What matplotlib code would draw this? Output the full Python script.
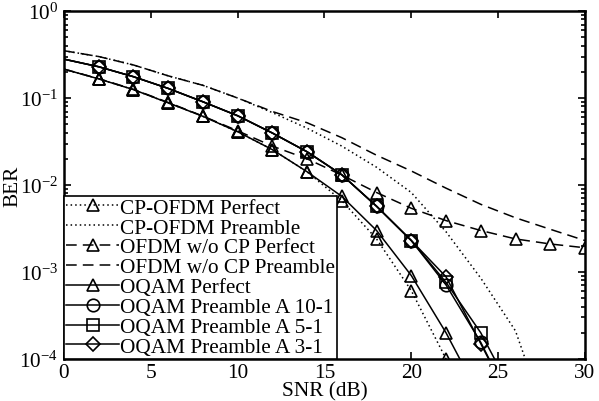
import numpy as np
import matplotlib

matplotlib.use("Agg")
import matplotlib.pyplot as plt
from matplotlib.ticker import LogLocator, NullFormatter

plt.rcParams["font.family"] = ["Liberation Serif", "DejaVu Serif"]
plt.rcParams["mathtext.fontset"] = "custom"
plt.rcParams["mathtext.rm"] = "Liberation Serif"
plt.rcParams["mathtext.it"] = "Liberation Serif:italic"

FS = 15.3

snr = np.arange(0, 32, 2)

cp_perfect = [0.215, 0.166, 0.125, 0.088, 0.0616, 0.041, 0.0255, 0.0142,
              0.0066, 0.0024, 6.1e-4, 1.0e-4, 1.0e-5]
cp_preamble = [0.35, 0.30, 0.24, 0.18, 0.14, 0.10, 0.068, 0.045,
               0.028, 0.016, 0.0082, 0.0029, 8.5e-4, 2.1e-4, 1.5e-5]
nocp_perfect = [0.215, 0.167, 0.126, 0.089, 0.062, 0.042, 0.028, 0.020,
                0.013, 0.0082, 0.0054, 0.0039, 0.0030, 0.0024, 0.0021, 0.0019]
nocp_preamble = [0.35, 0.30, 0.24, 0.18, 0.14, 0.10, 0.07, 0.052,
                 0.035, 0.022, 0.0145, 0.0092, 0.0060, 0.0042, 0.0031, 0.0023]
oqam_perfect = [0.215, 0.166, 0.125, 0.088, 0.0616, 0.041, 0.0255, 0.0142,
                0.0074, 0.0030, 9.1e-4, 2.0e-4, 3.5e-5]
oqam_a10 = [0.28, 0.229, 0.176, 0.129, 0.0906, 0.0626, 0.0396, 0.0241,
            0.0131, 0.0057, 0.0023, 7.1e-4, 1.55e-4, 2.5e-5]
oqam_a5 = [0.28, 0.229, 0.176, 0.129, 0.0906, 0.0626, 0.0396, 0.0241,
           0.0131, 0.0057, 0.0023, 7.6e-4, 2.0e-4, 3.5e-5]
oqam_a3 = [0.28, 0.229, 0.176, 0.129, 0.0906, 0.0626, 0.0396, 0.0241,
           0.0131, 0.0057, 0.0023, 8.8e-4, 1.5e-4, 2.5e-5]

series = [
    ("CP-OFDM Perfect", cp_perfect, dict(ls=(0, (1, 2)), marker="^")),
    ("CP-OFDM Preamble", cp_preamble, dict(ls=(0, (1, 2)), marker=None)),
    ("OFDM w/o CP Perfect", nocp_perfect, dict(ls=(0, (7, 4)), marker="^")),
    ("OFDM w/o CP Preamble", nocp_preamble, dict(ls=(0, (7, 4)), marker=None)),
    ("OQAM Perfect", oqam_perfect, dict(ls="-", marker="^")),
    ("OQAM Preamble A 10-1", oqam_a10, dict(ls="-", marker="o")),
    ("OQAM Preamble A 5-1", oqam_a5, dict(ls="-", marker="s")),
    ("OQAM Preamble A 3-1", oqam_a3, dict(ls="-", marker="D")),
]

fig = plt.figure(figsize=(5.99, 4.02), dpi=100)
ax = fig.add_axes([0.1068, 0.1045, 0.8698, 0.8655])

sizes = {"^": 9, "o": 9, "s": 8, "D": 7}
for label, vals, st in series:
    ax.plot(snr[:len(vals)], vals, color="black", lw=1.1, ls=st["ls"],
            marker=st["marker"], markersize=sizes.get(st["marker"], 0),
            markerfacecolor="none", markeredgewidth=1.2,
            markevery=slice(1, None), label=label)

ax.set_yscale("log")
ax.set_xlim(0, 30)
ax.set_ylim(1e-4, 1)
ax.set_xticks([0, 5, 10, 15, 20, 25, 30])
ax.yaxis.set_minor_locator(LogLocator(base=10, subs=np.arange(2, 10)))
ax.yaxis.set_minor_formatter(NullFormatter())
ax.tick_params(which="both", direction="in", top=True, right=True,
               labelsize=FS, width=1.2)
ax.tick_params(axis="x", pad=3)
ax.tick_params(axis="y", pad=4)
ax.tick_params(which="major", length=5)
ax.tick_params(which="minor", length=3)
for sp in ax.spines.values():
    sp.set_linewidth(1.8)

ax.set_xlabel("SNR (dB)", fontsize=FS, labelpad=-1)
ax.set_ylabel("BER", fontsize=FS)
ax.yaxis.set_label_coords(-0.08, 0.5)

leg = ax.legend(loc="lower left", fontsize=FS, frameon=True, fancybox=False,
                edgecolor="black", borderaxespad=0, borderpad=0.1,
                labelspacing=0.0, handlelength=2.5, handletextpad=0.05,
                framealpha=1)
leg.get_frame().set_linewidth(1.2)

fig.savefig("out.png", dpi=100)
